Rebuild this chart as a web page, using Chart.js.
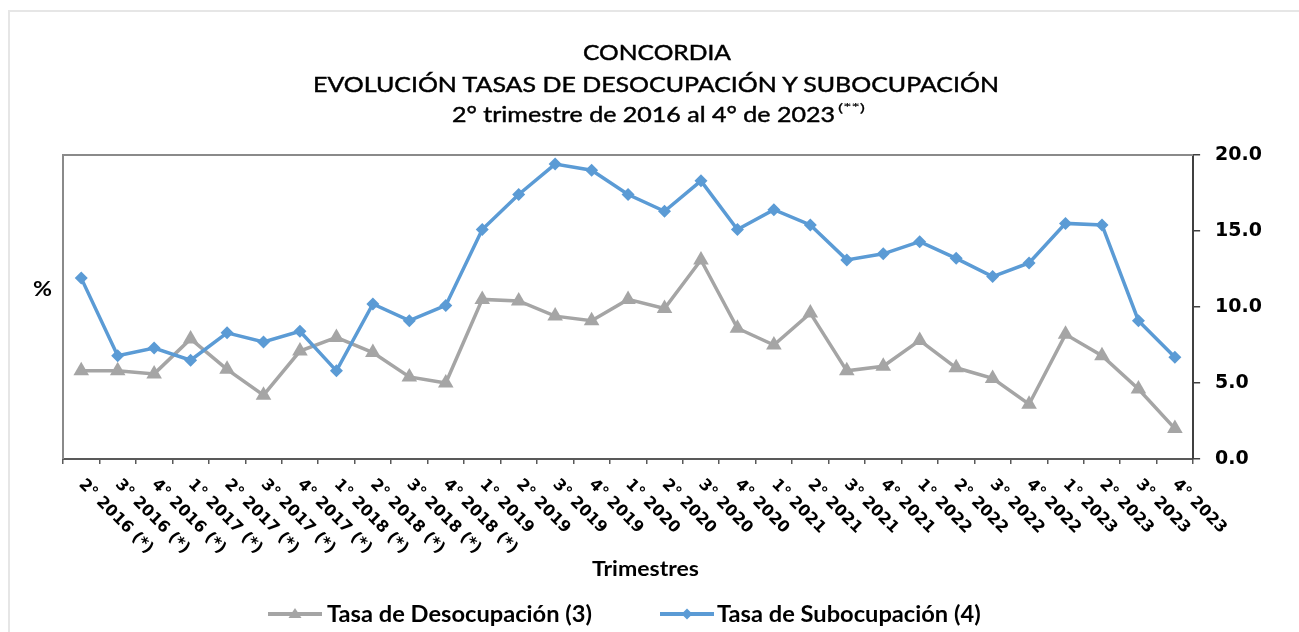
<!DOCTYPE html>
<html><head><meta charset="utf-8">
<script src="https://cdn.jsdelivr.net/npm/chart.js@4/dist/chart.umd.min.js"></script>
<style>
html,body{margin:0;padding:0;background:#fff;width:1299px;height:632px;overflow:hidden}
#frame{position:absolute;left:8px;top:10px;width:1400px;height:700px;border:2px solid #e6e6e6;box-sizing:border-box}
#cv{position:absolute;left:0;top:0}
.t{position:absolute;left:0;top:0;white-space:nowrap;font-family:Lato,sans-serif;color:#000;line-height:1}
.m{font-weight:normal;-webkit-text-stroke:0.45px #000}
.b{font-weight:bold}
svg{position:absolute}
</style></head>
<body>
<div id="frame"></div>
<canvas id="cv" width="1299" height="632"></canvas>

<div class="t m" id="t1" style="font-size:21px">CONCORDIA</div>
<div class="t m" id="t2" style="font-size:21px">EVOLUCIÓN TASAS DE DESOCUPACIÓN Y SUBOCUPACIÓN</div>
<div class="t m" id="t3" style="font-size:21px">2° trimestre de 2016 al 4° de 2023</div>
<div class="t m" id="t3s" style="font-size:12px;-webkit-text-stroke:0.2px #000">(**)</div>
<div class="t b" id="pct" style="font-size:21px">%</div>
<div class="t b" id="xt" style="font-size:20px">Trimestres</div>
<div class="t b" id="lg1" style="font-size:22px">Tasa de Desocupación (3)</div>
<div class="t b" id="lg2" style="font-size:22px">Tasa de Subocupación (4)</div>

<svg style="left:266px;top:604px" width="58" height="20">
  <line x1="2" y1="10" x2="56" y2="10" stroke="#A5A5A5" stroke-width="4"/>
  <polygon points="29,4 35.5,14 22.5,14" fill="#A5A5A5"/>
</svg>
<svg style="left:658px;top:604px" width="58" height="20">
  <line x1="2" y1="10" x2="56" y2="10" stroke="#5B9BD5" stroke-width="4"/>
  <polygon points="29,4.5 34.5,10 29,15.5 23.5,10" fill="#5B9BD5"/>
</svg>

<script>
// ---------- DATA ----------
const categories = [
  '2° 2016 (*)','3° 2016 (*)','4° 2016 (*)',
  '1° 2017 (*)','2° 2017 (*)','3° 2017 (*)','4° 2017 (*)',
  '1° 2018 (*)','2° 2018 (*)','3° 2018 (*)','4° 2018 (*)',
  '1° 2019','2° 2019','3° 2019','4° 2019',
  '1° 2020','2° 2020','3° 2020','4° 2020',
  '1° 2021','2° 2021','3° 2021','4° 2021',
  '1° 2022','2° 2022','3° 2022','4° 2022',
  '1° 2023','2° 2023','3° 2023','4° 2023'
];
const desocupacion = [5.8, 5.8, 5.6, 7.9, 5.9, 4.2, 7.1, 8.0, 7.0, 5.4, 5.0,
  10.5, 10.4, 9.4, 9.1, 10.5, 9.9, 13.1, 8.6, 7.5, 9.6, 5.8, 6.1,
  7.8, 6.0, 5.3, 3.6, 8.2, 6.8, 4.6, 2.0];
const subocupacion = [11.9, 6.8, 7.3, 6.5, 8.3, 7.7, 8.4, 5.8, 10.2, 9.1, 10.1,
  15.1, 17.4, 19.4, 19.0, 17.4, 16.3, 18.3, 15.1, 16.4, 15.4, 13.1, 13.5,
  14.3, 13.2, 12.0, 12.9, 15.5, 15.4, 9.1, 6.7];
const seriesNames = ['Tasa de Desocupación (3)', 'Tasa de Subocupación (4)'];
const yTicks = [0, 5, 10, 15, 20];

// ---------- plugins ----------
const plotFrame = {
  id: 'plotFrame',
  beforeDatasetsDraw(chart) {
    const {ctx, chartArea: a} = chart;
    ctx.save();
    ctx.strokeStyle = '#8a8a8a';
    ctx.lineWidth = 2;
    ctx.beginPath();
    ctx.moveTo(a.left, a.bottom);
    ctx.lineTo(a.left, a.top);
    ctx.lineTo(a.right, a.top);
    ctx.stroke();
    ctx.restore();
  }
};
const xLabels = {
  id: 'xLabels',
  afterDraw(chart) {
    const {ctx, chartArea: a, scales: {x}} = chart;
    ctx.save();
    ctx.font = 'bold 16px "DejaVu Sans"';
    ctx.fillStyle = '#000';
    ctx.textAlign = 'left';
    ctx.textBaseline = 'alphabetic';
    categories.forEach((lab, i) => {
      const px = x.getPixelForValue(i);
      ctx.save();
      ctx.translate(px - 3, a.bottom + 26);
      ctx.rotate(Math.PI / 4);
      ctx.fillText(lab, 0, 0);
      ctx.restore();
    });
    ctx.restore();
  }
};

new Chart(document.getElementById('cv'), {
  type: 'line',
  data: {
    labels: categories,
    datasets: [
      {
        label: seriesNames[0], data: desocupacion, order: 1,
        borderColor: '#A5A5A5', backgroundColor: '#A5A5A5', borderWidth: 3.5,
        pointStyle: 'triangle', pointRadius: 9, pointBorderWidth: 0,
        pointBackgroundColor: '#A5A5A5', tension: 0
      },
      {
        label: seriesNames[1], data: subocupacion, order: 0,
        borderColor: '#5B9BD5', backgroundColor: '#5B9BD5', borderWidth: 3.5,
        pointStyle: 'rectRot', pointRadius: 6.5, pointBorderWidth: 0,
        pointBackgroundColor: '#5B9BD5', tension: 0
      }
    ]
  },
  options: {
    responsive: false, animation: false, devicePixelRatio: 1,
    layout: {padding: {left: 63, top: 155, right: 22, bottom: 168}},
    plugins: {legend: {display: false}, title: {display: false}, tooltip: {enabled: false}},
    scales: {
      x: {
        offset: true,
        grid: {offset: true, drawOnChartArea: false, drawTicks: true, tickLength: 5, color: '#595959', lineWidth: 1.5},
        border: {display: true, color: '#595959', width: 2},
        ticks: {display: false}
      },
      y: {
        position: 'right', min: 0, max: 20,
        afterBuildTicks: s => { s.ticks = yTicks.map(v => ({value: v})); },
        grid: {drawOnChartArea: false, drawTicks: true, tickLength: 7, color: '#404040', lineWidth: 1.5},
        border: {display: true, color: '#404040', width: 2},
        ticks: {
          padding: 15, color: '#000',
          font: {family: '"DejaVu Sans"', size: 19, weight: 'bold'},
          callback: v => Number(v).toFixed(1)
        }
      }
    }
  },
  plugins: [plotFrame, xLabels]
});

// ---------- HTML text placement ----------
function place(id, left, baseline, width, scale) {
  const el = document.getElementById(id);
  const probe = document.createElement('span');
  probe.style.cssText = 'display:inline-block;width:0;height:0;vertical-align:baseline';
  el.appendChild(probe);
  const base = probe.offsetTop;
  const w = el.getBoundingClientRect().width;
  const k = scale || (width / w);
  el.style.left = left + 'px';
  el.style.top = (baseline - base) + 'px';
  el.style.transformOrigin = '0 0';
  el.style.transform = 'scaleX(' + k + ')';
  return k;
}
place('t1', 583, 60, 148);
place('t2', 313, 92, 686);
place('t3', 452, 122, 383);
place('t3s', 838, 112, 27);
place('pct', 33, 296, 19);
place('xt', 592, 576, 107);
const k = place('lg1', 327, 622, 265);
place('lg2', 717, 622, 0, k);
</script>
</body></html>
